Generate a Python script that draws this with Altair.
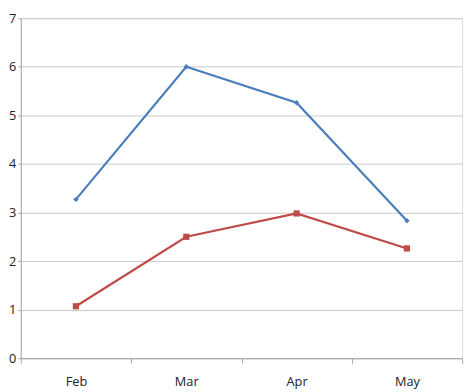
import altair as alt
import pandas as pd

months = ["Feb", "Mar", "Apr", "May"]
series_a = [3.27, 6.0, 5.26, 2.83]
series_b = [1.07, 2.5, 2.98, 2.26]

rows = []
for m, a, b in zip(months, series_a, series_b):
    rows.append({"month": m, "value": a, "series": "A"})
    rows.append({"month": m, "value": b, "series": "B"})
df = pd.DataFrame(rows)

x = alt.X("month:N", sort=months, title=None,
          scale=alt.Scale(type="band", paddingInner=0, paddingOuter=0),
          axis=alt.Axis(labelAngle=0, tickBand="extent", grid=False, domainColor="#a6a6a6",
                        tickColor="#a6a6a6", tickSize=5, labelPadding=13, labelFontSize=13,
                        labelColor="#222222", labelFont="Open Sans"))
y = alt.Y("value:Q", title=None, scale=alt.Scale(domain=[0, 7], nice=False),
          axis=alt.Axis(values=list(range(8)), tickCount=8, gridColor="#c9c9c9", domainColor="#a6a6a6",
                        tickColor="#a6a6a6", tickSize=3, labelPadding=2, labelFontSize=13,
                        labelColor="#222222", labelFont="Open Sans"))

base = alt.Chart(df)

line_a = base.transform_filter("datum.series == 'A'").mark_line(
    color="#4a7ebb", strokeWidth=2.2,
    point=alt.OverlayMarkDef(shape="diamond", size=30, filled=True, color="#4a7ebb")
).encode(x=x, y=y)

line_b = base.transform_filter("datum.series == 'B'").mark_line(
    color="#be4b48", strokeWidth=2.2,
    point=alt.OverlayMarkDef(shape="square", size=40, filled=True, color="#be4b48")
).encode(x=x, y=y)

chart = alt.layer(line_a, line_b).properties(
    width=449, height=346,
    autosize=alt.AutoSizeParams(type="none"),
    padding={"left": 13, "top": 7, "right": 5, "bottom": 31},
).configure_view(stroke=None).configure(background="white")

chart.save("out.html", embed_options={"renderer": "svg", "actions": False})
